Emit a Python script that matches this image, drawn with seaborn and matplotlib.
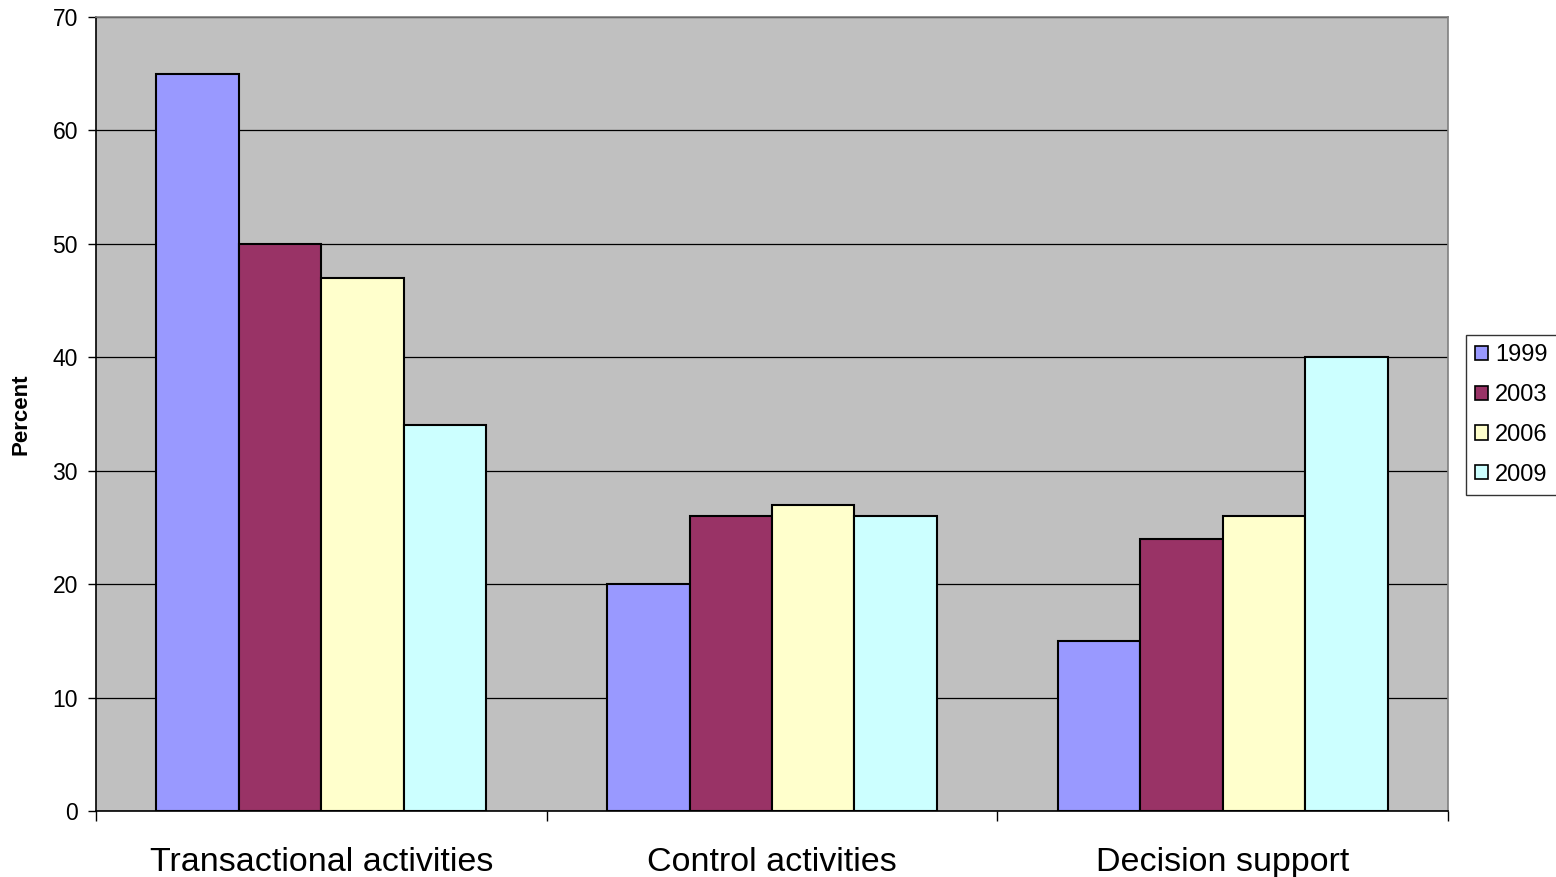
import matplotlib
matplotlib.use("Agg")
import matplotlib.pyplot as plt
import seaborn as sns
import pandas as pd
import numpy as np

categories = ["Transactional activities", "Control activities", "Decision support"]
years = ["1999", "2003", "2006", "2009"]
v1999 = [65, 20, 15]
v2003 = [50, 26, 24]
v2006 = [47, 27, 26]
v2009 = [34, 26, 40]
colors = ["#9999FF", "#993366", "#FFFFCC", "#CCFFFF"]

rows = []
for y, vals in zip(years, [v1999, v2003, v2006, v2009]):
    for c, v in zip(categories, vals):
        rows.append({"Category": c, "Year": y, "Percent": v})
df = pd.DataFrame(rows)

sns.set_theme(style="white")
plt.rcParams["font.family"] = ["Liberation Sans", "DejaVu Sans"]
plt.rcParams["text.color"] = "black"
plt.rcParams["axes.labelcolor"] = "black"
plt.rcParams["xtick.color"] = "black"
plt.rcParams["ytick.color"] = "black"

fig = plt.figure(figsize=(15.56, 8.77), dpi=100)
ax = fig.add_axes([96/1556, 1-811/877, (1448-96)/1556, (811-17)/877])
ax.set_facecolor("#C0C0C0")

sns.barplot(data=df, x="Category", y="Percent", hue="Year", order=categories,
            hue_order=years, palette=colors, width=0.732, edgecolor="black",
            linewidth=1.5, ax=ax, saturation=1, errorbar=None, zorder=3)

ax.set_ylim(0, 70)
ax.set_xlim(-0.5, 2.5)
ax.set_yticks(np.arange(0, 71, 10))
ax.yaxis.grid(True, color="#000000", linewidth=0.9, zorder=0)
ax.set_axisbelow(True)
ax.tick_params(axis="y", labelsize=16.5, length=6, width=1, direction="out",
               left=True, pad=7, colors="black", labelcolor="black")
ax.set_xticks([0, 1, 2])
ax.set_xticklabels(categories, fontsize=24.5, color="black")
ax.tick_params(axis="x", which="major", length=0, pad=26)
ax.set_xticks([-0.5, 0.5, 1.5, 2.5], minor=True)
ax.tick_params(axis="x", which="minor", length=7, width=1, direction="out",
               bottom=True, colors="black")
ax.set_xlabel("")
ax.set_ylabel("Percent", fontsize=16, fontweight="bold", color="black")
ax.yaxis.set_label_coords(-(96-32)/(1448-96), 0.5)

for s in ["top", "right"]:
    ax.spines[s].set_color("#808080")
    ax.spines[s].set_linewidth(1.2)
for s in ["left", "bottom"]:
    ax.spines[s].set_color("#000000")
    ax.spines[s].set_linewidth(1.2)

leg = ax.legend(loc="center left", bbox_to_anchor=(1466/1556, 1-415/877),
                bbox_transform=fig.transFigure, frameon=True, fontsize=17,
                fancybox=False, edgecolor="black", handlelength=0.55,
                handleheight=0.55, handletextpad=0.3, labelspacing=0.75,
                borderpad=0.38, borderaxespad=0, title=None)
leg.get_frame().set_linewidth(1.0)
for t in leg.get_texts():
    t.set_color("black")
for h in leg.legend_handles:
    h.set_edgecolor("black")
    h.set_linewidth(1.2)

fig.savefig("out.png", dpi=100, facecolor="white")
